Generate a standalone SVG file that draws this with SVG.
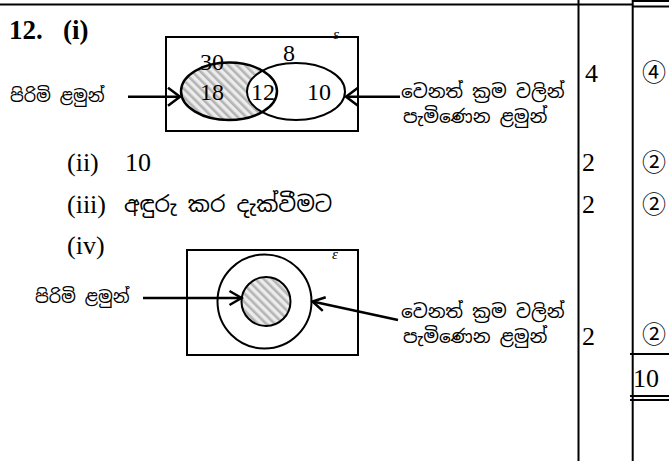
<svg xmlns="http://www.w3.org/2000/svg" width="669" height="461" viewBox="0 0 669 461">
<style>
.t{font-family:"Liberation Serif","Times New Roman",serif;font-size:26px;fill:#000}
.b{font-weight:bold;font-size:27px}
.n{font-size:24px}
.c{font-family:"Noto Sans CJK JP","DejaVu Sans",sans-serif;font-size:24px;fill:#000}
.s{font-family:"Noto Sans Sinhala","Iskoola Pota","Noto Sans",sans-serif;font-size:18.5px;fill:#000}
.sp{font-size:17.5px}
.sl{font-size:22px}
.e{font-family:"Liberation Serif",serif;font-size:15px;font-style:italic;fill:#000}
.rule{stroke:#000;stroke-width:2;fill:none}
.box{stroke:#000;stroke-width:2;fill:none}
.ar{stroke:#000;stroke-width:2.5;fill:none}
</style>
<defs>
<pattern id="hatch" patternUnits="userSpaceOnUse" width="6" height="6" patternTransform="rotate(-45)">
<rect width="6" height="6" fill="#ececec"/>
<rect width="2.6" height="6" fill="#b4b4b4"/>
</pattern>
<marker id="ah" markerUnits="userSpaceOnUse" markerWidth="30" markerHeight="30" refX="0" refY="0" viewBox="-15 -15 30 30" orient="auto" overflow="visible">
<path d="M-12,-9 L0,0 L-12,9" fill="none" stroke="#000" stroke-width="2.5"/>
</marker>
<marker id="ah2" markerUnits="userSpaceOnUse" markerWidth="30" markerHeight="30" refX="0" refY="0" viewBox="-15 -15 30 30" orient="auto" overflow="visible">
<path d="M-12,-7 L0,0 L-12,7" fill="none" stroke="#000" stroke-width="2.5"/>
</marker>
</defs>
<rect width="669" height="461" fill="#fff"/>

<g id="table">
<line class="rule" x1="0" y1="4.5" x2="633" y2="4.5" stroke-width="2.5"/>
<line class="rule" x1="633" y1="1" x2="669" y2="1"/>
<line class="rule" x1="633" y1="6.5" x2="669" y2="6.5" stroke-width="1" stroke="#888"/>
<line class="rule" x1="578.5" y1="0" x2="578.5" y2="461"/>
<line class="rule" x1="632.7" y1="0" x2="632.7" y2="461"/>
<line class="rule" x1="630" y1="354" x2="669" y2="354"/>
<line class="rule" x1="630" y1="396" x2="669" y2="396" stroke-width="1.6"/>
<line class="rule" x1="630" y1="400" x2="669" y2="400" stroke-width="1.6"/>
<text class="t" x="585" y="82">4</text>
<text class="c" x="642" y="81">④</text>
<text class="t" x="582" y="171">2</text>
<text class="c" x="642" y="171">②</text>
<text class="t" x="582" y="213">2</text>
<text class="c" x="642" y="213">②</text>
<text class="t" x="582" y="345">2</text>
<text class="c" x="642" y="343">②</text>
<text class="t" x="633" y="387">10</text>
</g>

<g id="headings">
<text class="t b" x="9" y="39">12.</text>
<text class="t b" x="63" y="39">(i)</text>
<text class="t" x="67" y="171">(ii)</text>
<text class="t" x="125" y="171">10</text>
<text class="t" x="67" y="213">(iii)</text>
<text class="s sl" x="124" y="212">අඳුරු කර දැක්වීමට</text>
<text class="t" x="67" y="254">(iv)</text>
</g>

<g id="venn1">
<rect class="box" x="166" y="37" width="192" height="94"/>
<ellipse cx="229" cy="91.3" rx="48" ry="28.7" fill="url(#hatch)"/>
<ellipse cx="296" cy="91.5" rx="49" ry="28.5" fill="#fff"/>
<ellipse cx="229" cy="91.3" rx="48" ry="28.7" fill="none" stroke="#000" stroke-width="2.5"/>
<ellipse cx="296" cy="91.5" rx="49" ry="28.5" fill="none" stroke="#000" stroke-width="2"/>
<text class="e" x="333" y="39">ε</text>
<text class="t n" x="200" y="70">30</text>
<text class="t n" x="283" y="61">8</text>
<text class="t n" x="200" y="100">18</text>
<text class="t n" x="251" y="100">12</text>
<text class="t n" x="307" y="100">10</text>
</g>

<g id="venn2">
<rect class="box" x="187" y="250" width="171" height="105"/>
<circle cx="264.5" cy="301.5" r="47" fill="#fff" stroke="#000" stroke-width="2"/>
<circle cx="266" cy="301.5" r="24.5" fill="url(#hatch)" stroke="#000" stroke-width="2"/>
<text class="e" x="332" y="259">ε</text>
</g>

<g id="label-boys-1"><text class="s sp" x="10" y="102">පිරිමි ළමුන්</text></g>
<g id="label-other-1">
<text class="s" x="401" y="98">වෙනත් ක්‍රම වලින්</text>
<text class="s" x="403" y="123">පැමිණෙන ළමුන්</text>
</g>
<g id="label-boys-2"><text class="s sp" x="35" y="303">පිරිමි ළමුන්</text></g>
<g id="label-other-2">
<text class="s" x="401" y="318">වෙනත් ක්‍රම වලින්</text>
<text class="s" x="403" y="343">පැමිණෙන ළමුන්</text>
</g>

<g id="connectors">
<line class="ar" x1="128" y1="96.7" x2="180" y2="96.7" marker-end="url(#ah)"/>
<line class="ar" x1="400" y1="96.7" x2="346" y2="96.7" marker-end="url(#ah)"/>
<line class="ar" x1="143" y1="298" x2="241.5" y2="298" marker-end="url(#ah2)"/>
<line class="ar" x1="398" y1="320" x2="312.5" y2="301.5" marker-end="url(#ah2)"/>
</g>
</svg>
